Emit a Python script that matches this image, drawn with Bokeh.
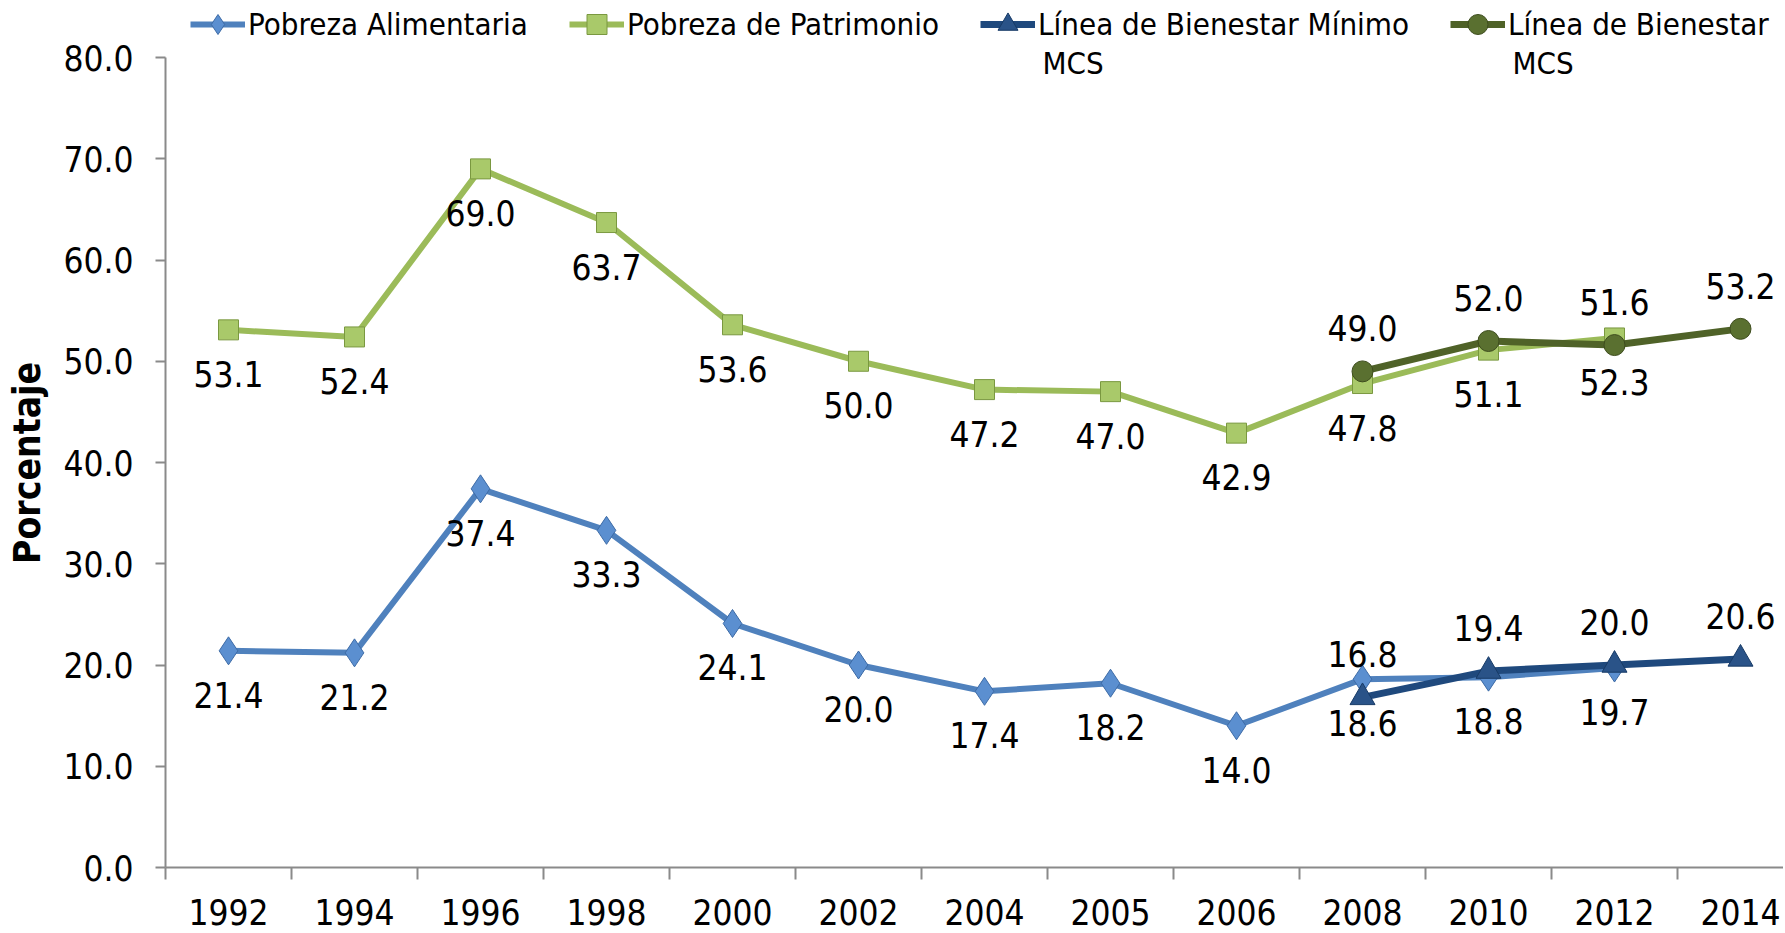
from bokeh.plotting import figure
from bokeh.models import Range1d, FixedTicker, PrintfTickFormatter, Legend, LegendItem, Label
from bokeh.core.properties import value
from bokeh.embed import file_html
from bokeh.resources import INLINE

# ---------------- data ----------------
years = ["1992", "1994", "1996", "1998", "2000", "2002", "2004", "2005",
         "2006", "2008", "2010", "2012", "2014"]
pa_years = ["1992", "1994", "1996", "1998", "2000", "2002", "2004", "2005",
            "2006", "2008", "2010", "2012"]
pobreza_alimentaria = [21.4, 21.2, 37.4, 33.3, 24.1, 20.0, 17.4, 18.2, 14.0, 18.6, 18.8, 19.7]
pobreza_patrimonio = [53.1, 52.4, 69.0, 63.7, 53.6, 50.0, 47.2, 47.0, 42.9, 47.8, 51.1, 52.3]
lb_years = ["2008", "2010", "2012", "2014"]
linea_bienestar_minimo = [16.8, 19.4, 20.0, 20.6]
linea_bienestar = [49.0, 52.0, 51.6, 53.2]
y_ticks = [0, 10, 20, 30, 40, 50, 60, 70, 80]
y_max = 80
y_title = "Porcentaje"
series_names = ["Pobreza Alimentaria", "Pobreza de Patrimonio",
                "Línea de Bienestar Mínimo", "Línea de Bienestar"]
second_line = "MCS"

# ---------------- layout ----------------
FONT = "'DejaVu Sans Condensed', 'Liberation Sans Narrow', 'DejaVu Sans'"
W, H = 1783, 931
LEFT, BOTTOM = 165, 64
AXIS_TOP_PX = 57            # pixel row of the 80.0 tick
CAT_PX = 126.0
frame_w = W - LEFT
frame_h = H - BOTTOM
x_end = -0.5 + frame_w / CAT_PX
y_end = y_max * frame_h / (frame_h - AXIS_TOP_PX)

xi = {y: i for i, y in enumerate(years)}
pa_x = [xi[y] for y in pa_years]
lb_x = [xi[y] for y in lb_years]

p = figure(width=W, height=H, output_backend="svg", toolbar_location=None,
           x_range=Range1d(-0.5, x_end), y_range=Range1d(0, y_end),
           min_border_left=LEFT, min_border_top=0, min_border_right=0,
           min_border_bottom=BOTTOM)
p.outline_line_color = None
p.xgrid.visible = False
p.ygrid.visible = False
p.background_fill_color = "white"

AX = "#8a8a8a"
# y axis
p.yaxis.ticker = FixedTicker(ticks=y_ticks)
p.yaxis.bounds = (0, y_max)
p.yaxis.formatter = PrintfTickFormatter(format="%.1f")
p.yaxis.major_tick_out = 10
p.yaxis.major_tick_in = 0
p.yaxis.minor_tick_out = 0
p.yaxis.minor_tick_in = 0
p.yaxis.axis_line_color = AX
p.yaxis.axis_line_width = 2
p.yaxis.major_tick_line_color = AX
p.yaxis.major_tick_line_width = 2
p.yaxis.major_label_standoff = 22
p.yaxis.major_label_text_font = FONT
p.yaxis.major_label_text_font_size = "35px"
p.yaxis.major_label_text_color = "black"
# trailing no-break spaces keep the title centred on the 0-80 span of the axis
p.yaxis.axis_label = y_title + "\u00a0" * 5
p.yaxis.axis_label_text_font = FONT
p.yaxis.axis_label_text_font_style = "bold"
p.yaxis.axis_label_text_font_size = "37px"
p.yaxis.axis_label_text_color = "black"
p.yaxis.axis_label_standoff = 11

# x axis
p.xaxis.ticker = FixedTicker(ticks=list(range(len(years))),
                             minor_ticks=[i - 0.5 for i in range(len(years) + 1)])
p.xaxis.major_label_overrides = {i: y for i, y in enumerate(years)}
p.xaxis.major_tick_out = 0
p.xaxis.major_tick_in = 0
p.xaxis.minor_tick_out = 12
p.xaxis.minor_tick_in = 0
p.xaxis.minor_tick_line_color = AX
p.xaxis.minor_tick_line_width = 2
p.xaxis.axis_line_color = AX
p.xaxis.axis_line_width = 2
p.xaxis.major_label_standoff = 19
p.xaxis.major_label_text_font = FONT
p.xaxis.major_label_text_font_size = "35px"
p.xaxis.major_label_text_color = "black"

# ---------------- series ----------------
styles = [
    dict(line="#4F81BD", lw=6, marker="diamond", size=28, fill="#5B8FD0", mline="#3D6BA6"),
    dict(line="#9BBB59", lw=6, marker="square", size=20, fill="#A9C96A", mline="#7A9840"),
    dict(line="#1F497D", lw=7, marker="triangle", size=25, fill="#2A5388", mline="#173A66"),
    dict(line="#4F6228", lw=7, marker="circle", size=21, fill="#5A7030", mline="#3E4D1E"),
]
series = [
    (pa_x, pobreza_alimentaria, 44),
    (pa_x, pobreza_patrimonio, 44),
    (lb_x, linea_bienestar_minimo, -43),
    (lb_x, linea_bienestar, -43),
]

items = []
for (xs, ys, off), st, name in zip(series, styles, series_names):
    r1 = p.line(xs, ys, line_color=st["line"], line_width=st["lw"])
    r2 = p.scatter(xs, ys, marker=st["marker"], size=st["size"],
                   fill_color=st["fill"], line_color=st["mline"], line_width=1)
    items.append(LegendItem(label=name, renderers=[r1, r2]))

for (xs, ys, off), st in zip(series, styles):
    p.text(xs, ys, text=["%.1f" % v for v in ys], y_offset=off,
           text_align="center", text_baseline="middle",
           text_font=value(FONT), text_font_size="35px", text_color="black")

LEG_H = 50
legend = Legend(items=items, orientation="horizontal",
                location=(25, frame_h + 1 - LEG_H),
                spacing=41, padding=0, margin=0, glyph_width=55, glyph_height=LEG_H,
                label_standoff=3, label_text_font=FONT, label_text_font_size="31px",
                label_text_color="black", background_fill_alpha=0,
                border_line_alpha=0)
p.add_layout(legend, "center")

for lx in (877, 1347):
    p.add_layout(Label(x=lx, y=frame_h - 62, x_units="screen", y_units="screen",
                       text=second_line, text_font=FONT, text_font_size="31px",
                       text_color="black", text_baseline="middle", text_align="left"))

open("out.html", "w").write(file_html(p, INLINE))
